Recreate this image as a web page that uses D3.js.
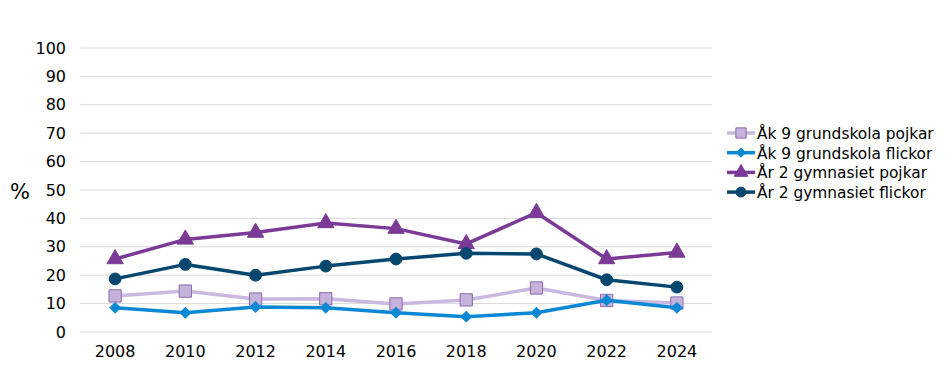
<!DOCTYPE html>
<html>
<head>
<meta charset="utf-8">
<script src="https://cdn.jsdelivr.net/npm/d3@7"></script>
<style>
  body { margin: 0; background: #fff; }
  text { font-family: "DejaVu Sans", Verdana, sans-serif; fill: #000; }
</style>
</head>
<body>
<svg width="945" height="376"></svg>
<script>
var years = ["2008", "2010", "2012", "2014", "2016", "2018", "2020", "2022", "2024"];
var yTicks = [0, 10, 20, 30, 40, 50, 60, 70, 80, 90, 100];

var ak9Pojkar = [12.7, 14.4, 11.6, 11.7, 9.9, 11.3, 15.5, 11.1, 10.2];
var ak9Flickor = [8.5, 6.8, 8.8, 8.5, 6.8, 5.4, 6.8, 11.2, 8.5];
var ar2Pojkar = [25.7, 32.6, 35.0, 38.4, 36.4, 31.0, 42.0, 25.7, 28.0];
var ar2Flickor = [18.7, 23.8, 20.0, 23.2, 25.7, 27.7, 27.5, 18.4, 15.8];

var seriesNames = ["Åk 9 grundskola pojkar", "Åk 9 grundskola flickor", "År 2 gymnasiet pojkar", "År 2 gymnasiet flickor"];

var series = [
  { name: seriesNames[0], values: ak9Pojkar, line: "#c9b8e0", fill: "#c5b3dc", stroke: "#8a68ae", shape: "square" },
  { name: seriesNames[1], values: ak9Flickor, line: "#0a88d4", fill: "#0a88d4", stroke: "#0a88d4", shape: "diamond" },
  { name: seriesNames[2], values: ar2Pojkar, line: "#7a3a96", fill: "#7a3a96", stroke: "#7a3a96", shape: "triangle" },
  { name: seriesNames[3], values: ar2Flickor, line: "#05476e", fill: "#05476e", stroke: "#05476e", shape: "circle" }
];

var svg = d3.select("svg");

var x = d3.scaleBand().domain(years).range([80, 712]);
var y = d3.scaleLinear().domain([0, 100]).range([332, 48]);

// gridlines
svg.append("g")
  .selectAll("line")
  .data(yTicks)
  .enter().append("line")
  .attr("x1", 80).attr("x2", 712)
  .attr("y1", d => y(d)).attr("y2", d => y(d))
  .attr("stroke", "#d9d9d9")
  .attr("stroke-width", 1);

// y axis labels
var yAxis = svg.append("g")
  .attr("transform", "translate(80,0)")
  .call(d3.axisLeft(y).tickValues(yTicks).tickSize(0).tickPadding(14));
yAxis.select(".domain").remove();
yAxis.selectAll("text").style("font-size", "16px").style("font-family", "DejaVu Sans, Verdana, sans-serif");

// x axis labels
var xAxis = svg.append("g")
  .attr("transform", "translate(0,332)")
  .call(d3.axisBottom(x).tickSize(0).tickPadding(14));
xAxis.select(".domain").remove();
xAxis.selectAll("text").style("font-size", "16px").style("font-family", "DejaVu Sans, Verdana, sans-serif");

svg.append("text")
  .attr("x", 20).attr("y", 199)
  .attr("text-anchor", "middle")
  .style("font-size", "21px")
  .text("%");

// diamond = square turned 45 degrees, like the office chart marker
var symbols = {
  square: d3.symbolSquare,
  diamond: d3.symbolSquare,
  triangle: d3.symbolTriangle,
  circle: d3.symbolCircle
};
var sizes = { square: 150, diamond: 55, triangle: 115, circle: 110 };
function rot(shape) { return shape === "diamond" ? " rotate(45)" : ""; }

var line = d3.line()
  .x((d, i) => x(years[i]) + x.bandwidth() / 2)
  .y(d => y(d));

series.forEach(function(s) {
  svg.append("path")
    .attr("d", line(s.values))
    .attr("fill", "none")
    .attr("stroke", s.line)
    .attr("stroke-width", 3.5)
    .attr("stroke-linejoin", "round");

  svg.append("g")
    .selectAll("path")
    .data(s.values)
    .enter().append("path")
    .attr("transform", (d, i) => "translate(" + (x(years[i]) + x.bandwidth() / 2) + "," + y(d) + ")" + rot(s.shape))
    .attr("d", d3.symbol().type(symbols[s.shape]).size(sizes[s.shape]))
    .attr("fill", s.fill)
    .attr("stroke", s.stroke)
    .attr("stroke-width", 1);
});

// legend
var legend = svg.append("g").attr("transform", "translate(727,133)");
var row = legend.selectAll("g")
  .data(series)
  .enter().append("g")
  .attr("transform", (d, i) => "translate(0," + (i * 19.7) + ")");

row.append("line")
  .attr("x1", 0).attr("x2", 28)
  .attr("stroke", d => d.line)
  .attr("stroke-width", 3.5);

row.append("path")
  .attr("transform", d => "translate(14,0)" + rot(d.shape))
  .attr("d", d => d3.symbol().type(symbols[d.shape]).size(sizes[d.shape] * 0.7)())
  .attr("fill", d => d.fill)
  .attr("stroke", d => d.stroke)
  .attr("stroke-width", 1);

row.append("text")
  .attr("x", 30).attr("y", 6)
  .style("font-size", "15.4px")
  .text(d => d.name);
</script>
</body>
</html>
